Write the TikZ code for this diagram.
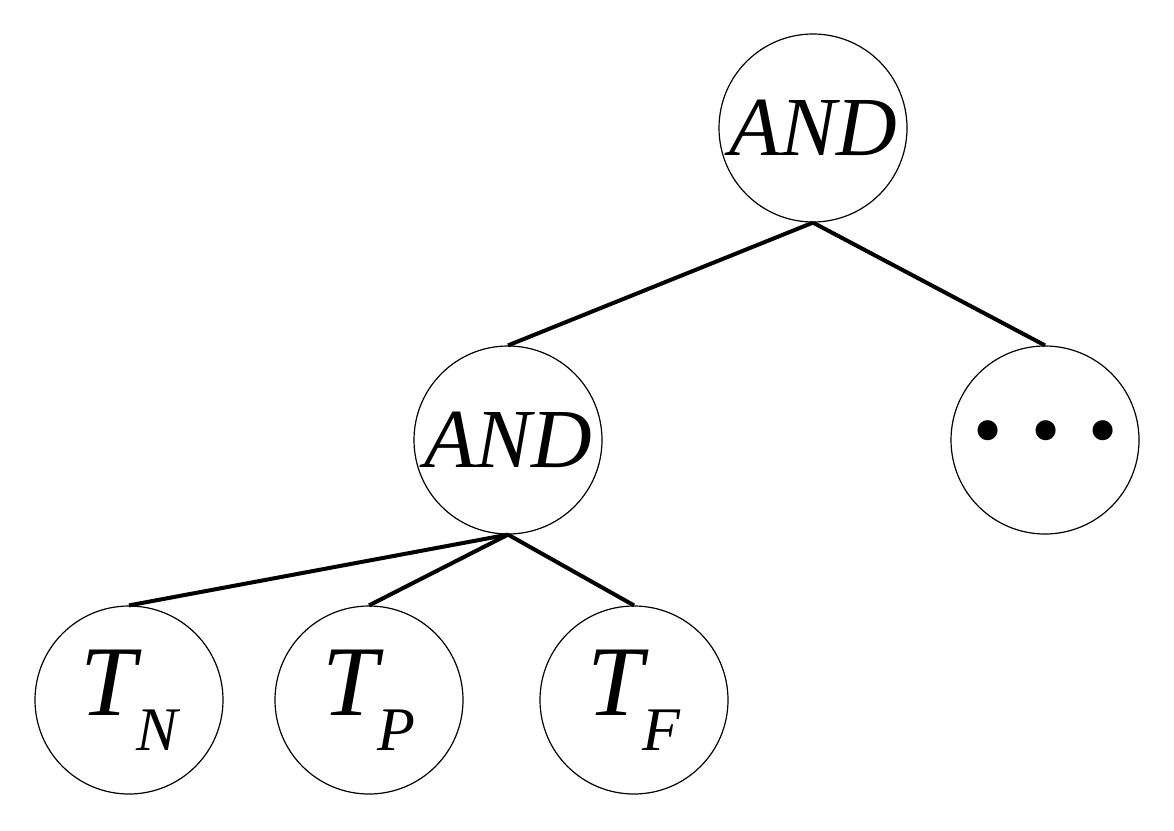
\documentclass[tikz,border=0pt]{standalone}
\usepackage{fontspec}
\setmainfont{Liberation Serif}[ItalicFont={Liberation Serif Italic}]
\begin{document}
\begin{tikzpicture}[x=1pt,y=-1pt,
  c/.style={circle,draw,line width=1.2pt,minimum size=188pt,inner sep=0pt,font=\fontsize{84}{84}\selectfont\itshape},
  t/.style={c,font=\fontsize{100}{100}\selectfont\itshape},
  e/.style={line width=4pt}]
\useasboundingbox (0,0) rectangle (1174,830);
\node[c] (a) at (813,128) {AND};
\node[c] (b) at (508,440) {AND};
\node[c] (d) at (1045,440) {\textbullet\,\,\textbullet\,\,\textbullet};
\node[t] (n) at (129,700) {T\raisebox{-0.35em}{\fontsize{62}{62}\selectfont N}};
\node[t] (p) at (369,700) {T\raisebox{-0.35em}{\fontsize{62}{62}\selectfont P}};
\node[t] (f) at (634,700) {T\raisebox{-0.35em}{\fontsize{62}{62}\selectfont F}};
\draw[e] (a.south) -- (b.north);
\draw[e] (a.south) -- (d.north);
\draw[e] (b.south) -- (n.north);
\draw[e] (b.south) -- (p.north);
\draw[e] (b.south) -- (f.north);
\end{tikzpicture}
\end{document}
